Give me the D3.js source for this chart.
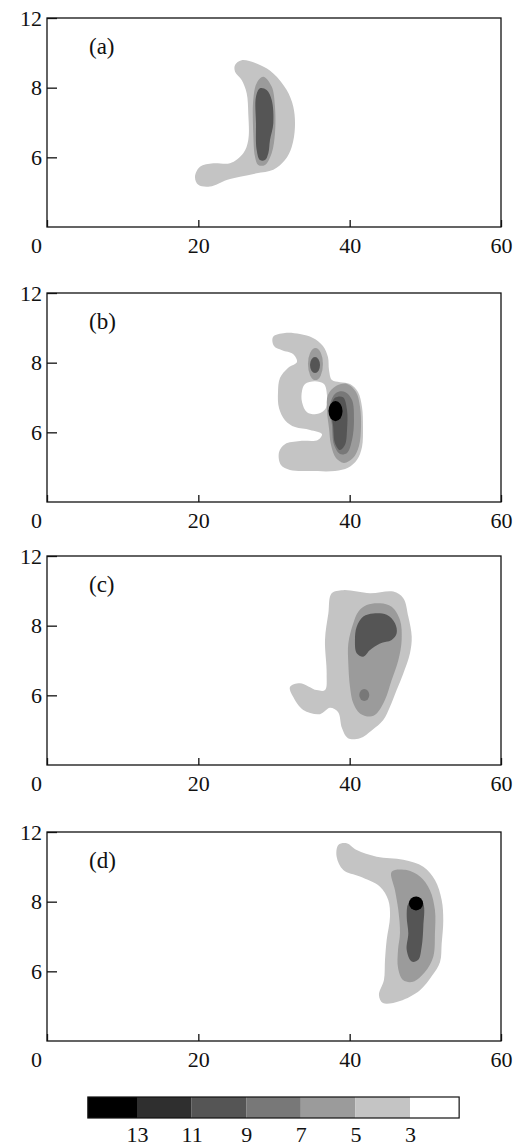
<!DOCTYPE html>
<html>
<head>
<meta charset="utf-8">
<script src="https://d3js.org/d3.v7.min.js"></script>
<style>
  body { margin: 0; background: #fff; }
  text { font-family: "Liberation Serif", "DejaVu Serif", serif; fill: #111; }
</style>
</head>
<body>
<div id="chart"></div>
<script>
// axis ticks
var xTicks = [0, 20, 40, 60];
var yTicks = [6, 8, 10];
var yTickLabels = ["6", "8", "12"];
var panelNames = ["(a)", "(b)", "(c)", "(d)"];

// colour bar: level boundaries, shown left (high) to right (low)
var barLevels = [13, 11, 9, 7, 5, 3];
var barEdges = [14.8, 13, 11, 9, 7, 5, 3, 1.2];

// contour regions, [x, y] in data units; level = lower bound of the band
var regionsA = [
  {level: 3, pts: [[24.85,8.65],[25.73,8.79],[28.15,8.65],[29.91,8.41],[31.68,7.93],[32.55,7.45],[32.77,6.88],[32.34,6.30],[31.45,5.92],[29.91,5.64],[27.71,5.54],[25.51,5.44],[23.75,5.35],[21.54,5.16],[20.0,5.21],[19.56,5.44],[20.22,5.73],[21.98,5.83],[24.18,5.83],[25.94,6.12],[26.60,6.50],[26.60,7.26],[26.39,7.84],[25.73,8.22],[24.85,8.46]]},
  {level: 5, pts: [[28.58,8.31],[29.69,8.03],[30.13,7.45],[30.13,6.69],[29.69,6.12],[28.81,5.78],[27.92,5.78],[27.49,6.02],[27.26,6.69],[27.26,7.65],[27.71,8.13]]},
  {level: 9, pts: [[28.15,7.98],[29.03,7.93],[29.69,7.65],[29.91,6.98],[29.47,6.50],[29.25,6.12],[28.81,5.92],[28.15,5.92],[27.71,6.21],[27.62,6.98],[27.62,7.74]]}
];
var regionsB = [
  {level: 3, pts: [[29.87,8.74],[31.45,8.85],[33.43,8.82],[35.15,8.71],[36.47,8.48],[37.13,8.16],[37.27,7.79],[37.66,7.50],[38.72,7.44],[40.04,7.39],[41.10,7.16],[41.63,6.73],[41.76,6.15],[41.63,5.58],[40.97,5.21],[39.78,4.98],[38.06,4.89],[34.76,4.89],[32.11,4.92],[30.92,5.06],[30.66,5.43],[31.45,5.66],[33.43,5.75],[35.81,5.78],[36.34,5.95],[34.76,6.07],[32.78,6.15],[31.45,6.35],[30.66,6.70],[30.53,7.16],[30.79,7.56],[31.85,7.85],[33.04,8.02],[32.51,8.25],[31.06,8.36],[30.0,8.48]]},
  {level: 1, pts: [[34.10,7.39],[35.42,7.47],[36.61,7.39],[37.00,7.07],[36.87,6.70],[35.81,6.53],[34.36,6.58],[33.70,6.87],[33.70,7.19]]},
  {level: 5, pts: [[38.19,7.33],[39.65,7.39],[40.84,7.16],[41.37,6.73],[41.50,6.15],[41.23,5.61],[40.44,5.26],[39.25,5.12],[38.19,5.26],[37.53,5.64],[37.27,6.12],[37.00,6.64],[37.13,7.07]]},
  {level: 7, pts: [[38.19,7.13],[39.38,7.16],[40.31,6.93],[40.57,6.35],[40.31,5.78],[39.65,5.41],[38.72,5.38],[37.93,5.64],[37.66,6.21],[37.40,6.78]]},
  {level: 9, pts: [[38.06,6.99],[39.12,7.01],[39.65,6.64],[39.65,6.07],[39.38,5.64],[38.72,5.49],[38.06,5.69],[37.80,6.21],[37.53,6.70]]}
];
var regionsC = [
  {level: 3, pts: [[37.62,8.93],[39.16,9.02],[42.69,8.93],[45.77,8.98],[47.09,8.79],[47.75,8.26],[48.20,7.68],[47.97,7.21],[47.09,6.63],[46.21,6.15],[45.33,5.67],[44.44,5.29],[42.95,5.00],[41.36,4.77],[39.78,4.77],[38.98,5.06],[38.46,5.52],[37.40,5.64],[36.08,5.46],[33.87,5.58],[32.55,5.95],[32.11,6.24],[33.43,6.35],[35.64,6.15],[36.74,6.15],[36.96,6.63],[36.74,7.59],[37.18,8.35]]},
  {level: 5, pts: [[42.25,8.59],[44.01,8.64],[45.55,8.54],[46.65,8.16],[46.87,7.59],[46.43,7.01],[45.55,6.44],[44.67,5.87],[43.57,5.48],[42.69,5.39],[41.36,5.48],[40.48,5.77],[40.04,6.25],[39.82,6.92],[39.82,7.49],[40.48,8.07],[41.14,8.40]]},
  {level: 9, pts: [[40.93,7.97],[41.80,8.26],[43.12,8.35],[44.89,8.31],[45.99,8.07],[46.21,7.78],[45.55,7.59],[44.01,7.49],[42.69,7.30],[41.80,7.11],[40.93,7.21],[40.70,7.59]]}
];
var regionsD = [
  {level: 3, pts: [[38.50,9.63],[39.61,9.68],[40.93,9.48],[43.57,9.29],[47.09,9.20],[49.73,9.00],[51.27,8.62],[52.16,8.05],[52.37,7.47],[52.16,6.80],[51.94,6.27],[50.88,5.87],[49.29,5.46],[46.65,5.15],[44.40,5.09],[43.87,5.32],[44.53,5.75],[44.67,6.33],[44.89,6.90],[45.33,7.57],[45.10,8.05],[44.01,8.43],[41.36,8.72],[39.16,8.91],[38.28,9.29]]},
  {level: 5, pts: [[45.55,8.86],[47.54,8.91],[49.29,8.72],[50.61,8.33],[51.27,7.76],[51.27,7.09],[51.05,6.42],[49.95,5.98],[48.37,5.70],[47.05,5.75],[46.39,6.10],[46.39,6.61],[46.65,7.10],[46.43,7.76],[45.99,8.33]]},
  {level: 9, pts: [[47.75,7.95],[48.86,8.14],[49.73,7.95],[49.73,7.28],[49.52,6.71],[49.07,6.33],[48.20,6.28],[47.54,6.61],[47.75,7.09],[47.54,7.57]]}
];

// small closed spots: centre and half-widths in data units
var spotsA = [];
var spotsB = [
  {level: 5, cx: 35.48, cy: 7.96, rx: 0.99, ry: 0.46},
  {level: 9, cx: 35.42, cy: 7.93, rx: 0.66, ry: 0.23},
  {level: 13, cx: 38.13, cy: 6.61, rx: 0.93, ry: 0.29}
];
var spotsC = [
  {level: 7, cx: 41.93, cy: 6.01, rx: 0.66, ry: 0.17}
];
var spotsD = [
  {level: 13, cx: 48.77, cy: 7.95, rx: 0.93, ry: 0.2}
];

var panelRegions = [regionsA, regionsB, regionsC, regionsD];
var panelSpots = [spotsA, spotsB, spotsC, spotsD];

// layout
var W = 518, H = 1148;
var left = 47, pw = 454, ph = 209;
var tops = [18, 293, 556, 832];

var fill = d3.scaleOrdinal()
  .domain([13, 11, 9, 7, 5, 3, 1])
  .range(["#000000", "#2f2f2f", "#555555", "#787878", "#9b9b9b", "#c4c4c4", "#ffffff"]);

var svg = d3.select("#chart").append("svg")
  .attr("width", W).attr("height", H);

var x = d3.scaleLinear().domain([0, 60]).range([0, pw]);
var y = d3.scaleLinear().domain([4, 10]).range([ph, 0]);

var line = d3.line()
  .x(function(d) { return x(d[0]); })
  .y(function(d) { return y(d[1]); })
  .curve(d3.curveCatmullRomClosed.alpha(0.5));

panelNames.forEach(function(name, i) {
  var g = svg.append("g").attr("transform", "translate(" + left + "," + tops[i] + ")");

  g.append("g").selectAll("path")
    .data(panelRegions[i])
    .enter().append("path")
    .attr("d", function(d) { return line(d.pts); })
    .attr("fill", function(d) { return fill(d.level); });

  g.append("g").selectAll("ellipse")
    .data(panelSpots[i])
    .enter().append("ellipse")
    .attr("cx", function(d) { return x(d.cx); })
    .attr("cy", function(d) { return y(d.cy); })
    .attr("rx", function(d) { return x(d.rx) - x(0); })
    .attr("ry", function(d) { return y(0) - y(d.ry); })
    .attr("fill", function(d) { return fill(d.level); });

  g.append("rect")
    .attr("width", pw).attr("height", ph)
    .attr("fill", "none").attr("stroke", "#111").attr("stroke-width", 1.3);

  var xa = g.append("g").attr("transform", "translate(0," + ph + ")")
    .call(d3.axisBottom(x).tickValues(xTicks).tickSizeInner(-7).tickSizeOuter(0).tickPadding(10));
  xa.select(".domain").remove();
  xa.selectAll("text").attr("font-size", 22).attr("font-family", "Liberation Serif");
  xa.selectAll(".tick").filter(function(d) { return d === 0; }).select("text").attr("x", -11);
  xa.selectAll("line").attr("stroke", "#111").attr("stroke-width", 1.3);

  var ya = g.append("g")
    .call(d3.axisLeft(y).tickValues(yTicks).tickSizeInner(-10).tickSizeOuter(0).tickPadding(5)
      .tickFormat(function(d, j) { return yTickLabels[j]; }));
  ya.select(".domain").remove();
  ya.selectAll("text").attr("font-size", 22).attr("font-family", "Liberation Serif");
  ya.selectAll("line").attr("stroke", "#111").attr("stroke-width", 1.3);

  g.append("text")
    .attr("x", 42).attr("y", 36)
    .attr("font-size", 23)
    .text(name);
});

// colour bar
var cb = d3.scaleLinear().domain([13, 3]).range([137, 410]);
var cbTop = 1097, cbH = 21;
var segs = d3.pairs(barEdges);
svg.append("g").selectAll("rect")
  .data(segs)
  .enter().append("rect")
  .attr("x", function(d) { return cb(d[0]); })
  .attr("y", cbTop)
  .attr("width", function(d) { return cb(d[1]) - cb(d[0]); })
  .attr("height", cbH)
  .attr("fill", function(d, i) { return fill(i < barLevels.length ? barLevels[i] : 1); });
svg.append("rect")
  .attr("x", cb(barEdges[0])).attr("y", cbTop)
  .attr("width", cb(barEdges[barEdges.length - 1]) - cb(barEdges[0]))
  .attr("height", cbH)
  .attr("fill", "none").attr("stroke", "#111").attr("stroke-width", 1.2);

var cba = svg.append("g").attr("transform", "translate(0," + (cbTop + cbH) + ")")
  .call(d3.axisBottom(cb).tickValues(barLevels).tickSize(0).tickPadding(8));
cba.select(".domain").remove();
cba.selectAll("text").attr("font-size", 22).attr("font-family", "Liberation Serif");
</script>
</body>
</html>
